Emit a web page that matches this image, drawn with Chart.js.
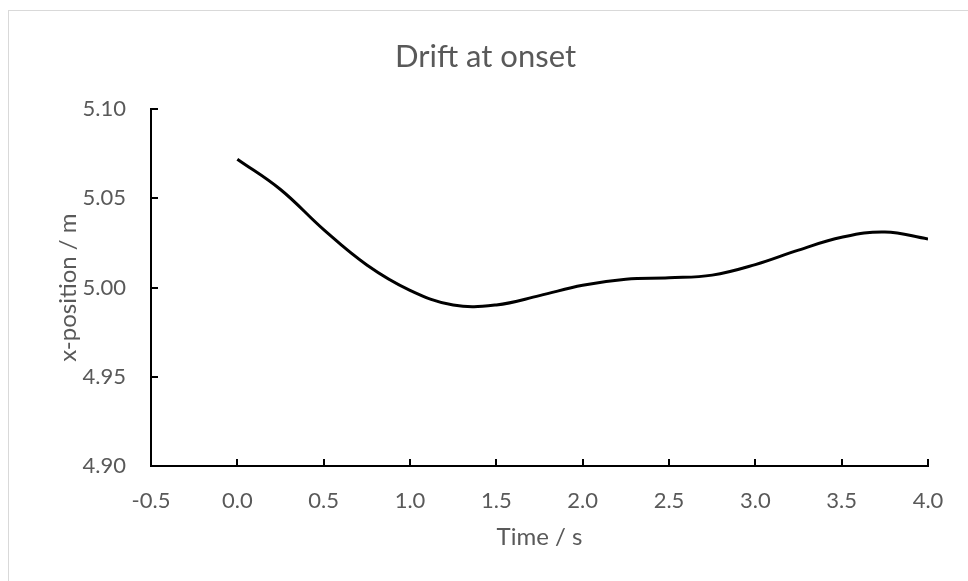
<!DOCTYPE html>
<html><head><meta charset="utf-8">
<script src="https://cdn.jsdelivr.net/npm/chart.js@4/dist/chart.umd.min.js"></script>
<style>
html,body{margin:0;padding:0;background:#fff;overflow:hidden}
#wrap{position:relative;width:968px;height:581px}
#frame{position:absolute;left:8px;top:10px;width:1000px;height:1000px;border:1px solid #d9d9d9;box-sizing:border-box}
canvas{position:absolute;left:0;top:0}
</style></head><body>
<div id="wrap"><div id="frame"></div><canvas id="c" width="968" height="581"></canvas></div>
<script>
const chartTitle = 'Drift at onset';
const xAxisTitle = 'Time / s';
const yAxisTitle = 'x-position / m';
const times = [0, 0.25, 0.5, 0.75, 1.0, 1.25, 1.5, 1.75, 2.0, 2.25, 2.5, 2.75, 3.0, 3.25, 3.5, 3.75, 4.0];
const positions = [5.072, 5.055, 5.0325, 5.0127, 4.9985, 4.9902, 4.9903, 4.9955, 5.0013, 5.0047, 5.0055, 5.0070, 5.0129, 5.0210, 5.0282, 5.0312, 5.0273];
const xMin = -0.5, xMax = 4.0, xStep = 0.5;
const yMin = 4.90, yMax = 5.10, yStep = 0.05;

const textColor = '#595959';
const fontFamily = 'Lato, "Open Sans", sans-serif';

const innerTicks = {
  id: 'innerTicks',
  afterDraw(chart) {
    const {ctx, scales: {x, y}} = chart;
    ctx.save();
    ctx.strokeStyle = '#000';
    ctx.lineWidth = 2;
    x.ticks.forEach(t => {
      const px = Math.round(x.getPixelForValue(t.value));
      ctx.beginPath(); ctx.moveTo(px, x.top); ctx.lineTo(px, x.top - 7); ctx.stroke();
    });
    y.ticks.forEach(t => {
      const py = Math.round(y.getPixelForValue(t.value));
      ctx.beginPath(); ctx.moveTo(y.right, py); ctx.lineTo(y.right + 7, py); ctx.stroke();
    });
    ctx.restore();
  }
};

new Chart(document.getElementById('c'), {
  type: 'line',
  data: {
    datasets: [{
      data: times.map((t, i) => ({x: t, y: positions[i]})),
      borderColor: '#000',
      borderWidth: 3,
      pointRadius: 0,
      tension: 0.4,
      fill: false
    }]
  },
  plugins: [innerTicks],
  options: {
    responsive: false,
    animation: false,
    devicePixelRatio: 1,
    layout: {padding: {left: 43, right: 40, top: 0, bottom: 0}},
    plugins: {
      legend: {display: false},
      tooltip: {enabled: false},
      title: {
        display: true,
        text: chartTitle,
        color: textColor,
        font: {family: fontFamily, size: 31, weight: 'normal', lineHeight: 1.2},
        padding: {top: 38, bottom: 34}
      }
    },
    scales: {
      x: {
        type: 'linear',
        min: xMin, max: xMax,
        grid: {display: false},
        border: {display: true, color: '#000', width: 2},
        ticks: {
          stepSize: xStep,
          color: textColor,
          padding: 14,
          font: {family: fontFamily, size: 22},
          callback: v => Number(v).toFixed(1)
        },
        title: {
          display: true, text: xAxisTitle, color: textColor,
          font: {family: fontFamily, size: 24, lineHeight: 1.2},
          padding: {top: 0, bottom: 29}
        },
        afterFit: s => { s.height = 115; }
      },
      y: {
        min: yMin, max: yMax,
        grid: {display: false},
        border: {display: true, color: '#000', width: 2},
        ticks: {
          stepSize: yStep,
          color: textColor,
          padding: 17,
          font: {family: fontFamily, size: 22},
          callback: v => Number(v).toFixed(2)
        },
        title: {
          display: true, text: yAxisTitle, color: textColor,
          font: {family: fontFamily, size: 24, lineHeight: 1.2},
          padding: {top: 11, bottom: 0}
        },
        afterFit: s => { s.width = 108; }
      }
    }
  }
});
</script>
</body></html>
